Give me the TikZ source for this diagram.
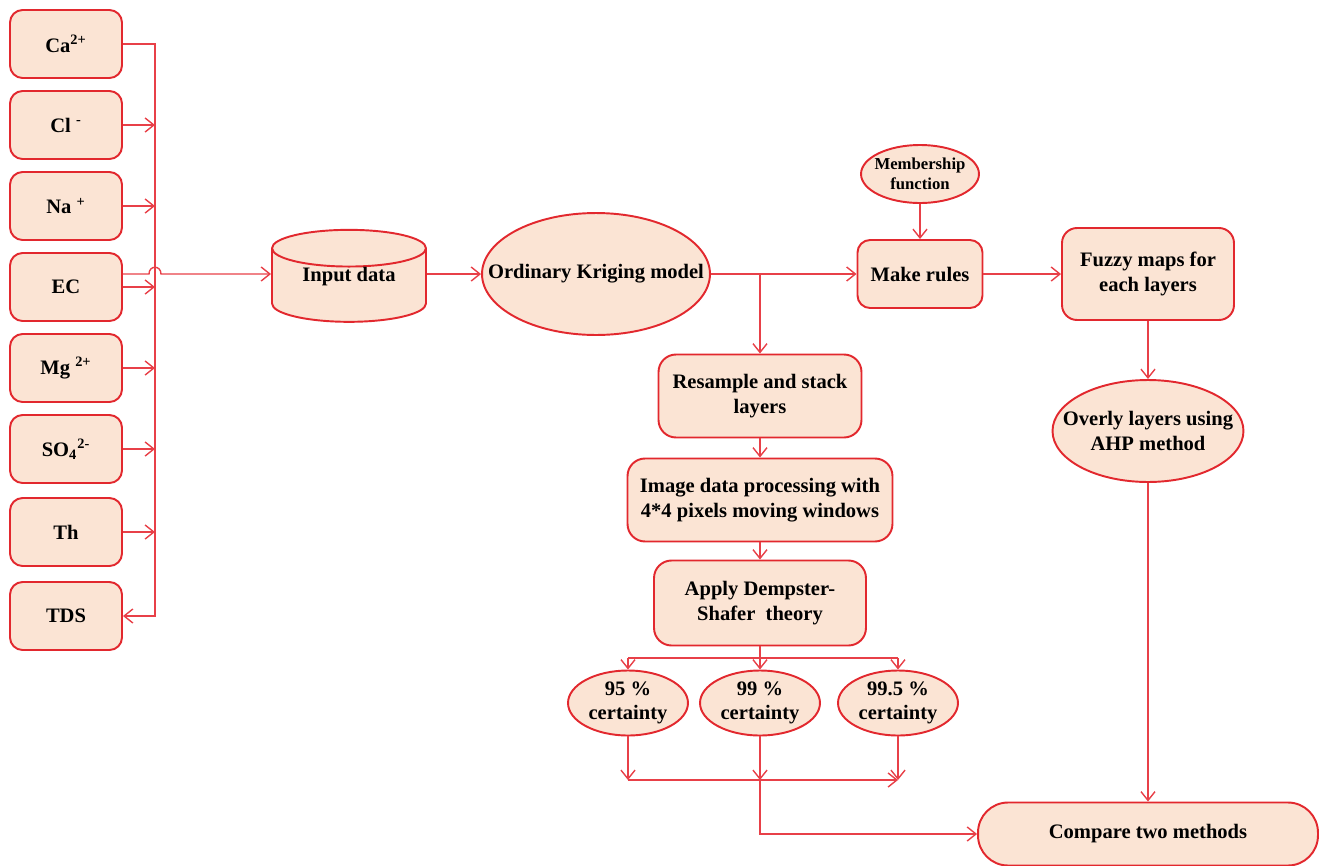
\documentclass[tikz,border=0pt]{standalone}
\usepackage{fontspec}
\setmainfont{Liberation Serif}
\usepackage{tikz}
\usetikzlibrary{positioning, shapes, calc, arrows.meta}
\definecolor{boxred}{RGB}{226,40,46}
\definecolor{linered}{RGB}{232,64,72}
\definecolor{peach}{RGB}{251,228,212}

\tikzset{
	box/.style={draw=boxred, fill=peach, line width=1.1pt, rounded corners=0.25cm, align=center, font=\fontsize{11.7}{14}\selectfont\bfseries, inner sep=2pt},
	leftbox/.style={box, minimum width=2.24cm, minimum height=1.36cm},
	oval/.style={draw=boxred, fill=peach, line width=1.1pt, ellipse, inner sep=0pt},
	ovaltext/.style={align=center, font=\fontsize{11.7}{14}\selectfont\bfseries, inner sep=0pt},
	cyl/.style={draw=boxred, fill=peach, line width=1.1pt, cylinder, shape border rotate=90, aspect=0.35, minimum width=3.08cm, minimum height=1.84cm, font=\fontsize{11.7}{14}\selectfont\bfseries},
	arr/.style={draw=linered, line width=0.8pt, -{Straight Barb[length=5pt,width=8pt]}},
	link/.style={draw=linered, line width=0.8pt},
}

\begin{document}
\begin{tikzpicture}[x=0.02cm, y=-0.02cm]
	\path[use as bounding box] (0,0) rectangle (1320,866);
	
	% measured parameters
	\node[leftbox] (ca) at (66,44) {Ca\textsuperscript{2+}};
	\node[leftbox] (cl) at (66,125) {Cl \textsuperscript{-}};
	\node[leftbox] (na) at (66,206) {Na \textsuperscript{+}};
	\node[leftbox] (ec) at (66,287) {EC};
	\node[leftbox] (mg) at (66,368) {Mg \textsuperscript{2+}};
	\node[leftbox] (so) at (66,449) {SO\textsubscript{4}\textsuperscript{2-}};
	\node[leftbox] (th) at (66,532) {Th};
	\node[leftbox] (tds) at (66,616) {TDS};
	
	\coordinate (bustop) at (155,44);
	\coordinate (busbot) at (155,616);
	\coordinate (hop) at (155,274);
	
	\node[cyl, label={[ovaltext, yshift=0.24cm]center:Input data}] (input) at (349,289) {\raisebox{0.3cm}{\phantom{Input data}}};
	\node[oval, minimum width=4.56cm, minimum height=2.44cm, label={[ovaltext]center:Ordinary Kriging model}] (kriging) at (596,274) {};
	\node[oval, minimum width=2.36cm, minimum height=1.16cm, label={[ovaltext, font=\fontsize{9.5}{11.5}\selectfont\bfseries]center:Membership\\function}] (member) at (920,174) {};
	\node[box, minimum width=2.5cm, minimum height=1.36cm] (rules) at (920,274) {Make rules};
	\node[box, minimum width=3.44cm, minimum height=1.84cm, rounded corners=0.3cm] (fuzzy) at (1148,274) {Fuzzy maps for\\each layers};
	\node[oval, minimum width=3.82cm, minimum height=2.04cm, label={[ovaltext]center:Overly layers using\\AHP method}] (overly) at (1148,431) {};
	\node[box, minimum width=6.8cm, minimum height=1.26cm, rounded corners=0.6cm] (compare) at (1148,834) {Compare two methods};
	
	\node[box, minimum width=4.06cm, minimum height=1.66cm, rounded corners=0.35cm] (resample) at (760,396) {Resample and stack\\layers};
	\node[box, minimum width=5.3cm, minimum height=1.66cm, rounded corners=0.35cm] (imgproc) at (760,500) {Image data processing with\\4*4 pixels moving windows};
	\node[box, minimum width=4.24cm, minimum height=1.7cm, rounded corners=0.35cm] (dst) at (760,603) {Apply Dempster-\\Shafer\ \ theory};
	
	\node[oval, minimum width=2.4cm, minimum height=1.3cm, label={[ovaltext]center:95 \%\\certainty}] (c95) at (628,703) {};
	\node[oval, minimum width=2.4cm, minimum height=1.3cm, label={[ovaltext]center:99 \%\\certainty}] (c99) at (760,703) {};
	\node[oval, minimum width=2.4cm, minimum height=1.3cm, label={[ovaltext]center:99.5 \%\\certainty}] (c995) at (898,703) {};
	
	\coordinate (split) at (760,274);
	\coordinate (fork) at (760,658);
	\coordinate (join) at (760,780);
	
	% left bus
	\draw[arr] (ca.east) -- (bustop) -- (busbot) -- (tds.east);
	\draw[arr] (cl.east) -- (cl.east -| bustop);
	\draw[arr] (na.east) -- (na.east -| bustop);
	\draw[arr] (ec.east) -- (ec.east -| bustop);
	\draw[arr] (mg.east) -- (mg.east -| bustop);
	\draw[arr] (so.east) -- (so.east -| bustop);
	\draw[arr] (th.east) -- (th.east -| bustop);
	\draw[arr] (ec.east |- hop) -- ([xshift=-0.12cm]hop) .. controls +(0,0.18cm) and +(0,0.18cm) .. ([xshift=0.12cm]hop) -- (input.west |- hop);
	
	% main chain
	\draw[arr] (input.east |- kriging.west) -- (kriging.west);
	\draw[arr] (kriging.east) -- (rules.west);
	\draw[arr] (member.south) -- (rules.north);
	\draw[arr] (rules.east) -- (fuzzy.west);
	\draw[arr] (fuzzy.south) -- (overly.north);
	\draw[arr] (overly.south) -- (compare.north);
	
	\draw[arr] (split) -- (resample.north);
	\draw[arr] (resample.south) -- (imgproc.north);
	\draw[arr] (imgproc.south) -- (dst.north);
	
	\draw[link] (dst.south) -- (fork);
	\draw[link] (fork -| c95) -- (fork -| c995);
	\draw[arr] (fork -| c95) -- (c95.north);
	\draw[arr] (fork) -- (c99.north);
	\draw[arr] (fork -| c995) -- (c995.north);
	
	\draw[arr] (c95.south) -- (c95.south |- join);
	\draw[arr] (c99.south) -- (join);
	\draw[arr] (c995.south) -- (c995.south |- join);
	\draw[arr] (join -| c95) -- (join -| c995);
	\draw[arr] (join) |- (compare.west);
\end{tikzpicture}
\end{document}
